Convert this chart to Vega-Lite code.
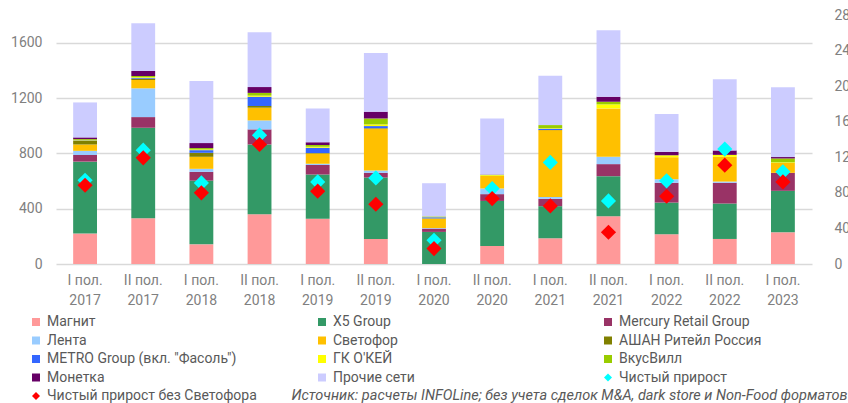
{
  "$schema": "https://vega.github.io/schema/vega-lite/v6.json",
  "width": 756,
  "height": 249,
  "padding": {"left": 10, "top": 8, "right": 0, "bottom": 0},
  "background": "white",
  "config": {
    "font": "Liberation Sans Narrow, Roboto",
    "view": {"stroke": null}
  },
  "datasets": {
    "bars": [
      {"p": "I пол. 2017", "c": "Магнит", "v": 220},
      {"p": "I пол. 2017", "c": "X5 Group", "v": 520},
      {"p": "I пол. 2017", "c": "Mercury Retail Group", "v": 48},
      {"p": "I пол. 2017", "c": "Лента", "v": 30},
      {"p": "I пол. 2017", "c": "Светофор", "v": 46},
      {"p": "I пол. 2017", "c": "АШАН Ритейл Россия", "v": 28},
      {"p": "I пол. 2017", "c": "METRO Group (вкл. \"Фасоль\")", "v": 2},
      {"p": "I пол. 2017", "c": "ГК О'КЕЙ", "v": 3},
      {"p": "I пол. 2017", "c": "ВкусВилл", "v": 6},
      {"p": "I пол. 2017", "c": "Монетка", "v": 12},
      {"p": "I пол. 2017", "c": "Прочие сети", "v": 253},
      {"p": "II пол. 2017", "c": "Магнит", "v": 331},
      {"p": "II пол. 2017", "c": "X5 Group", "v": 654},
      {"p": "II пол. 2017", "c": "Mercury Retail Group", "v": 77},
      {"p": "II пол. 2017", "c": "Лента", "v": 208},
      {"p": "II пол. 2017", "c": "Светофор", "v": 60},
      {"p": "II пол. 2017", "c": "АШАН Ритейл Россия", "v": 10},
      {"p": "II пол. 2017", "c": "METRO Group (вкл. \"Фасоль\")", "v": 6},
      {"p": "II пол. 2017", "c": "ГК О'КЕЙ", "v": 5},
      {"p": "II пол. 2017", "c": "ВкусВилл", "v": 8},
      {"p": "II пол. 2017", "c": "Монетка", "v": 36},
      {"p": "II пол. 2017", "c": "Прочие сети", "v": 345},
      {"p": "I пол. 2018", "c": "Магнит", "v": 142},
      {"p": "I пол. 2018", "c": "X5 Group", "v": 461},
      {"p": "I пол. 2018", "c": "Mercury Retail Group", "v": 63},
      {"p": "I пол. 2018", "c": "Лента", "v": 22},
      {"p": "I пол. 2018", "c": "Светофор", "v": 87},
      {"p": "I пол. 2018", "c": "АШАН Ритейл Россия", "v": 29},
      {"p": "I пол. 2018", "c": "METRO Group (вкл. \"Фасоль\")", "v": 19},
      {"p": "I пол. 2018", "c": "ГК О'КЕЙ", "v": 5},
      {"p": "I пол. 2018", "c": "ВкусВилл", "v": 10},
      {"p": "I пол. 2018", "c": "Монетка", "v": 36},
      {"p": "I пол. 2018", "c": "Прочие сети", "v": 449},
      {"p": "II пол. 2018", "c": "Магнит", "v": 360},
      {"p": "II пол. 2018", "c": "X5 Group", "v": 504},
      {"p": "II пол. 2018", "c": "Mercury Retail Group", "v": 109},
      {"p": "II пол. 2018", "c": "Лента", "v": 65},
      {"p": "II пол. 2018", "c": "Светофор", "v": 92},
      {"p": "II пол. 2018", "c": "АШАН Ритейл Россия", "v": 12},
      {"p": "II пол. 2018", "c": "METRO Group (вкл. \"Фасоль\")", "v": 67},
      {"p": "II пол. 2018", "c": "ГК О'КЕЙ", "v": 8},
      {"p": "II пол. 2018", "c": "ВкусВилл", "v": 20},
      {"p": "II пол. 2018", "c": "Монетка", "v": 42},
      {"p": "II пол. 2018", "c": "Прочие сети", "v": 396},
      {"p": "I пол. 2019", "c": "Магнит", "v": 328},
      {"p": "I пол. 2019", "c": "X5 Group", "v": 319},
      {"p": "I пол. 2019", "c": "Mercury Retail Group", "v": 68},
      {"p": "I пол. 2019", "c": "Лента", "v": 10},
      {"p": "I пол. 2019", "c": "Светофор", "v": 73},
      {"p": "I пол. 2019", "c": "АШАН Ритейл Россия", "v": 5},
      {"p": "I пол. 2019", "c": "METRO Group (вкл. \"Фасоль\")", "v": 38},
      {"p": "I пол. 2019", "c": "ГК О'КЕЙ", "v": 7},
      {"p": "I пол. 2019", "c": "ВкусВилл", "v": 12},
      {"p": "I пол. 2019", "c": "Монетка", "v": 20},
      {"p": "I пол. 2019", "c": "Прочие сети", "v": 244},
      {"p": "II пол. 2019", "c": "Магнит", "v": 181},
      {"p": "II пол. 2019", "c": "X5 Group", "v": 444},
      {"p": "II пол. 2019", "c": "Mercury Retail Group", "v": 34},
      {"p": "II пол. 2019", "c": "Лента", "v": 17},
      {"p": "II пол. 2019", "c": "Светофор", "v": 302},
      {"p": "II пол. 2019", "c": "АШАН Ритейл Россия", "v": 4},
      {"p": "II пол. 2019", "c": "METRO Group (вкл. \"Фасоль\")", "v": 15},
      {"p": "II пол. 2019", "c": "ГК О'КЕЙ", "v": 12},
      {"p": "II пол. 2019", "c": "ВкусВилл", "v": 43},
      {"p": "II пол. 2019", "c": "Монетка", "v": 49},
      {"p": "II пол. 2019", "c": "Прочие сети", "v": 425},
      {"p": "I пол. 2020", "c": "Магнит", "v": 0},
      {"p": "I пол. 2020", "c": "X5 Group", "v": 232},
      {"p": "I пол. 2020", "c": "Mercury Retail Group", "v": 24},
      {"p": "I пол. 2020", "c": "Лента", "v": 4},
      {"p": "I пол. 2020", "c": "Светофор", "v": 68},
      {"p": "I пол. 2020", "c": "АШАН Ритейл Россия", "v": 2},
      {"p": "I пол. 2020", "c": "METRO Group (вкл. \"Фасоль\")", "v": 8},
      {"p": "I пол. 2020", "c": "ГК О'КЕЙ", "v": 2},
      {"p": "I пол. 2020", "c": "ВкусВилл", "v": 4},
      {"p": "I пол. 2020", "c": "Прочие сети", "v": 240},
      {"p": "II пол. 2020", "c": "Магнит", "v": 130},
      {"p": "II пол. 2020", "c": "X5 Group", "v": 326},
      {"p": "II пол. 2020", "c": "Mercury Retail Group", "v": 49},
      {"p": "II пол. 2020", "c": "Лента", "v": 41},
      {"p": "II пол. 2020", "c": "Светофор", "v": 91},
      {"p": "II пол. 2020", "c": "ГК О'КЕЙ", "v": 5},
      {"p": "II пол. 2020", "c": "ВкусВилл", "v": 3},
      {"p": "II пол. 2020", "c": "Монетка", "v": 2},
      {"p": "II пол. 2020", "c": "Прочие сети", "v": 405},
      {"p": "I пол. 2021", "c": "Магнит", "v": 186},
      {"p": "I пол. 2021", "c": "X5 Group", "v": 232},
      {"p": "I пол. 2021", "c": "Mercury Retail Group", "v": 53},
      {"p": "I пол. 2021", "c": "Лента", "v": 14},
      {"p": "I пол. 2021", "c": "Светофор", "v": 483},
      {"p": "I пол. 2021", "c": "METRO Group (вкл. \"Фасоль\")", "v": 10},
      {"p": "I пол. 2021", "c": "ГК О'КЕЙ", "v": 4},
      {"p": "I пол. 2021", "c": "ВкусВилл", "v": 22},
      {"p": "I пол. 2021", "c": "Прочие сети", "v": 357},
      {"p": "II пол. 2021", "c": "Магнит", "v": 345},
      {"p": "II пол. 2021", "c": "X5 Group", "v": 290},
      {"p": "II пол. 2021", "c": "Mercury Retail Group", "v": 87},
      {"p": "II пол. 2021", "c": "Лента", "v": 53},
      {"p": "II пол. 2021", "c": "Светофор", "v": 350},
      {"p": "II пол. 2021", "c": "ГК О'КЕЙ", "v": 29},
      {"p": "II пол. 2021", "c": "ВкусВилл", "v": 19},
      {"p": "II пол. 2021", "c": "Монетка", "v": 36},
      {"p": "II пол. 2021", "c": "Прочие сети", "v": 481},
      {"p": "I пол. 2022", "c": "Магнит", "v": 215},
      {"p": "I пол. 2022", "c": "X5 Group", "v": 229},
      {"p": "I пол. 2022", "c": "Mercury Retail Group", "v": 143},
      {"p": "I пол. 2022", "c": "Лента", "v": 26},
      {"p": "I пол. 2022", "c": "Светофор", "v": 159},
      {"p": "I пол. 2022", "c": "ГК О'КЕЙ", "v": 14},
      {"p": "I пол. 2022", "c": "Монетка", "v": 25},
      {"p": "I пол. 2022", "c": "Прочие сети", "v": 273},
      {"p": "II пол. 2022", "c": "Магнит", "v": 181},
      {"p": "II пол. 2022", "c": "X5 Group", "v": 256},
      {"p": "II пол. 2022", "c": "Mercury Retail Group", "v": 150},
      {"p": "II пол. 2022", "c": "Лента", "v": 9},
      {"p": "II пол. 2022", "c": "Светофор", "v": 179},
      {"p": "II пол. 2022", "c": "ГК О'КЕЙ", "v": 14},
      {"p": "II пол. 2022", "c": "Монетка", "v": 32},
      {"p": "II пол. 2022", "c": "Прочие сети", "v": 514},
      {"p": "I пол. 2023", "c": "Магнит", "v": 229},
      {"p": "I пол. 2023", "c": "X5 Group", "v": 300},
      {"p": "I пол. 2023", "c": "Mercury Retail Group", "v": 130},
      {"p": "I пол. 2023", "c": "Светофор", "v": 72},
      {"p": "I пол. 2023", "c": "ГК О'КЕЙ", "v": 4},
      {"p": "I пол. 2023", "c": "ВкусВилл", "v": 28},
      {"p": "I пол. 2023", "c": "Монетка", "v": 10},
      {"p": "I пол. 2023", "c": "Прочие сети", "v": 505}
    ],
    "net": [
      {"p": "I пол. 2017", "c": "Чистый прирост", "v": 942},
      {"p": "II пол. 2017", "c": "Чистый прирост", "v": 1280},
      {"p": "I пол. 2018", "c": "Чистый прирост", "v": 912},
      {"p": "II пол. 2018", "c": "Чистый прирост", "v": 1449},
      {"p": "I пол. 2019", "c": "Чистый прирост", "v": 923},
      {"p": "II пол. 2019", "c": "Чистый прирост", "v": 968},
      {"p": "I пол. 2020", "c": "Чистый прирост", "v": 267},
      {"p": "II пол. 2020", "c": "Чистый прирост", "v": 849},
      {"p": "I пол. 2021", "c": "Чистый прирост", "v": 1142},
      {"p": "II пол. 2021", "c": "Чистый прирост", "v": 709},
      {"p": "I пол. 2022", "c": "Чистый прирост", "v": 935},
      {"p": "II пол. 2022", "c": "Чистый прирост", "v": 1292},
      {"p": "I пол. 2023", "c": "Чистый прирост", "v": 1036},
      {"p": "I пол. 2017", "c": "Чистый прирост без Светофора", "v": 886},
      {"p": "II пол. 2017", "c": "Чистый прирост без Светофора", "v": 1194},
      {"p": "I пол. 2018", "c": "Чистый прирост без Светофора", "v": 800},
      {"p": "II пол. 2018", "c": "Чистый прирост без Светофора", "v": 1344},
      {"p": "I пол. 2019", "c": "Чистый прирост без Светофора", "v": 819},
      {"p": "II пол. 2019", "c": "Чистый прирост без Светофора", "v": 672},
      {"p": "I пол. 2020", "c": "Чистый прирост без Светофора", "v": 173},
      {"p": "II пол. 2020", "c": "Чистый прирост без Светофора", "v": 736},
      {"p": "I пол. 2021", "c": "Чистый прирост без Светофора", "v": 653},
      {"p": "II пол. 2021", "c": "Чистый прирост без Светофора", "v": 357},
      {"p": "I пол. 2022", "c": "Чистый прирост без Светофора", "v": 762},
      {"p": "II пол. 2022", "c": "Чистый прирост без Светофора", "v": 1111},
      {"p": "I пол. 2023", "c": "Чистый прирост без Светофора", "v": 923}
    ]
  },
  "layer": [
    {
      "data": {"name": "bars"},
      "transform": [
        {"calculate": "indexof(['Маг','X5 ','Mer','Лен','Све','АША','MET','ГК ','Вку','Мон','Про'], slice(datum.c, 0, 3))", "as": "ord"}
      ],
      "mark": {"type": "bar"},
      "encoding": {
        "x": {
          "field": "p", "type": "nominal", "sort": null,
          "scale": {"paddingInner": 0.59, "paddingOuter": 0.295},
          "axis": {
            "labelExpr": "[slice(datum.label, 0, -5), slice(datum.label, -4)]",
            "labelAngle": 0, "labelFontSize": 14, "labelLineHeight": 20, "labelColor": "#808080",
            "labelPadding": 9, "ticks": false, "domain": false,
            "title": "Источник: расчеты INFOLine; без учета сделок M&A, dark store и Non-Food форматов",
            "titleX": 791, "titleY": 131, "titleAlign": "right", "titleBaseline": "middle",
            "titleFontStyle": "italic", "titleFontWeight": "normal", "titleFontSize": 14.5, "titleColor": "#595959"
          }
        },
        "y": {
          "field": "v", "type": "quantitative", "stack": "zero",
          "scale": {"domain": [0, 1800], "nice": false},
          "axis": {
            "values": [0, 400, 800, 1200, 1600], "format": "d", "title": null, "grid": true, "gridColor": "#d9d9d9", "gridWidth": 1.5,
            "ticks": false, "domain": false, "labelFontSize": 14, "labelColor": "#808080", "labelPadding": 14
          }
        },
        "color": {
          "field": "c", "type": "nominal",
          "scale": {
            "domain": ["Магнит", "X5 Group", "Mercury Retail Group", "Лента", "Светофор", "АШАН Ритейл Россия", "METRO Group (вкл. \"Фасоль\")", "ГК О'КЕЙ", "ВкусВилл", "Монетка", "Прочие сети", "Чистый прирост", "Чистый прирост без Светофора"],
            "range": ["#ff9999", "#339966", "#993366", "#99ccff", "#ffc000", "#808000", "#3366ff", "#ffff00", "#99cc00", "#660066", "#ccccff", "#00ffff", "#ff0000"]
          },
          "legend": {
            "title": null, "orient": "none", "legendX": -27, "legendY": 300, "columns": 3, "direction": "horizontal", "gridAlign": "all",
            "columnPadding": 58, "rowPadding": 4.5, "labelFontSize": 14, "labelColor": "#595959", "labelOffset": 4,
            "labelLimit": 400, "symbolSize": 64, "symbolStrokeWidth": 0
          }
        },
        "order": {"field": "ord", "type": "quantitative", "sort": "ascending"}
      }
    },
    {
      "data": {"name": "net"},
      "mark": {"type": "point", "filled": true, "size": 230, "opacity": 1},
      "encoding": {
        "x": {"field": "p", "type": "nominal", "sort": null},
        "y": {
          "field": "v", "type": "quantitative",
          "scale": {"domain": [0, 2800], "nice": false},
          "axis": {
            "orient": "right", "values": [0, 400, 800, 1200, 1600, 2000, 2400, 2800], "format": "d", "title": null, "grid": false,
            "ticks": false, "domain": false, "labelFontSize": 14, "labelColor": "#808080", "labelPadding": 22
          }
        },
        "color": {"field": "c", "type": "nominal"},
        "shape": {
          "field": "c", "type": "nominal",
          "scale": {
            "domain": ["Магнит", "X5 Group", "Mercury Retail Group", "Лента", "Светофор", "АШАН Ритейл Россия", "METRO Group (вкл. \"Фасоль\")", "ГК О'КЕЙ", "ВкусВилл", "Монетка", "Прочие сети", "Чистый прирост", "Чистый прирост без Светофора"],
            "range": ["square", "square", "square", "square", "square", "square", "square", "square", "square", "square", "square", "diamond", "diamond"]
          }
        }
      }
    }
  ],
  "resolve": {"scale": {"y": "independent"}}
}
